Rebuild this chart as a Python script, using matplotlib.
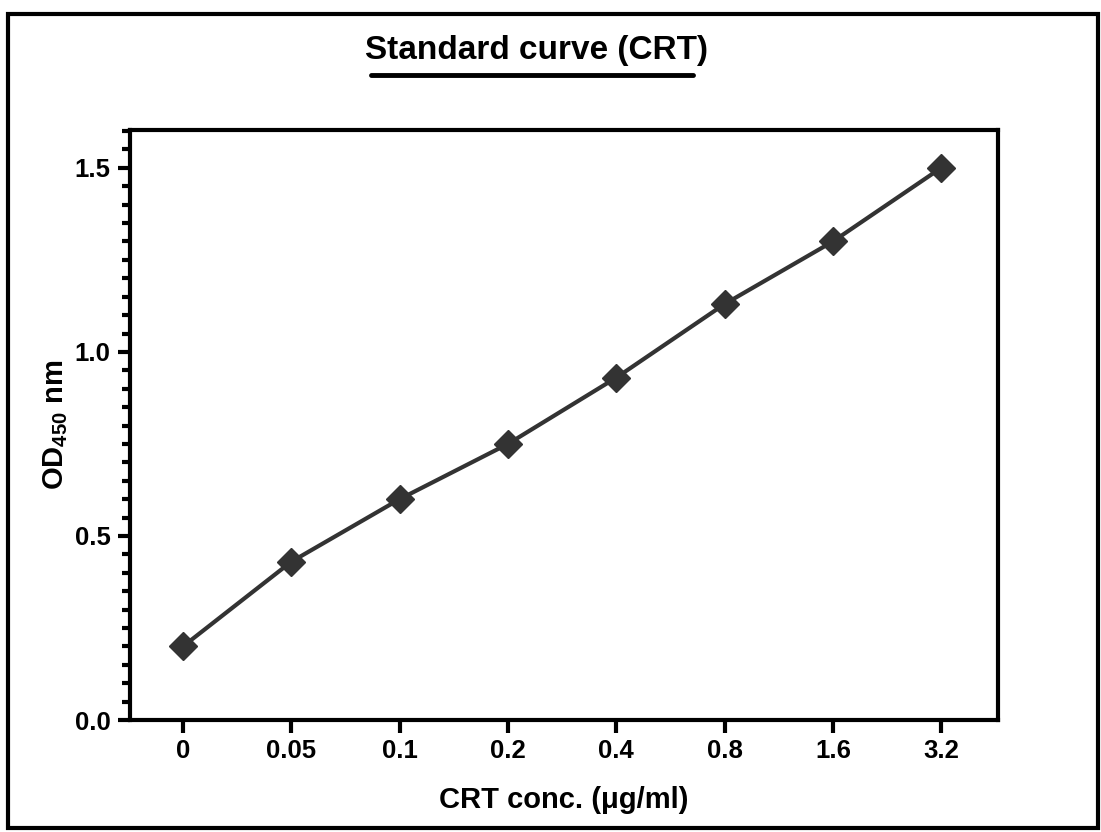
import matplotlib
matplotlib.use('Agg')
from matplotlib import pyplot as plt
from matplotlib.lines import Line2D
from matplotlib.patches import Rectangle
from matplotlib.ticker import MultipleLocator, FormatStrFormatter

conc_labels = ['0', '0.05', '0.1', '0.2', '0.4', '0.8', '1.6', '3.2']
od450 = [0.20, 0.43, 0.60, 0.75, 0.93, 1.13, 1.30, 1.50]

plt.rcParams['font.family'] = ['Liberation Sans', 'DejaVu Sans']
plt.rcParams['font.weight'] = 'bold'
plt.rcParams['mathtext.fontset'] = 'custom'
plt.rcParams['mathtext.rm'] = 'Liberation Sans:bold'
plt.rcParams['mathtext.it'] = 'Liberation Sans:bold'
plt.rcParams['mathtext.bf'] = 'Liberation Sans:bold'

fig = plt.figure(figsize=(11.01, 8.32), dpi=100)
ax = fig.add_axes([0.118, 0.1346, 0.788, 0.7092])

xpos = list(range(len(conc_labels)))
ax.plot(xpos, od450, color='#333333', linewidth=3, marker='D',
        markersize=14, markerfacecolor='#333333', markeredgecolor='#333333')

ax.set_xlim(-0.49, 7.52)
ax.set_ylim(0, 1.603)
ax.set_xticks(xpos)
ax.set_xticklabels(conc_labels)
ax.yaxis.set_major_locator(MultipleLocator(0.5))
ax.yaxis.set_minor_locator(MultipleLocator(0.05))
ax.yaxis.set_major_formatter(FormatStrFormatter('%.1f'))

for side in ['left', 'right', 'top', 'bottom']:
    ax.spines[side].set_linewidth(3)
    ax.spines[side].set_color('black')

ax.tick_params(axis='both', which='major', direction='out', length=9,
               width=3, labelsize=18.5, pad=5)
ax.tick_params(axis='y', which='minor', direction='out', length=6, width=3)
for lab in ax.get_xticklabels() + ax.get_yticklabels():
    lab.set_fontweight('bold')

ax.set_xlabel('CRT conc. (\u03bcg/ml)', fontsize=21, fontweight='bold',
              labelpad=16)
ax.set_ylabel('OD$_{450}$ nm', fontsize=21, fontweight='bold', labelpad=3)

fig.text(0.487, 0.939, 'Standard curve (CRT)', ha='center', va='center',
         fontsize=24, fontweight='bold')
fig.add_artist(Line2D([0.337, 0.629], [0.910, 0.910], color='black',
                      linewidth=3.5, solid_capstyle='round'))
fig.add_artist(Rectangle((0.007, 0.005), 0.99, 0.978, fill=False,
                         edgecolor='black', linewidth=3))

fig.savefig('out.png', dpi=100, facecolor='white')
